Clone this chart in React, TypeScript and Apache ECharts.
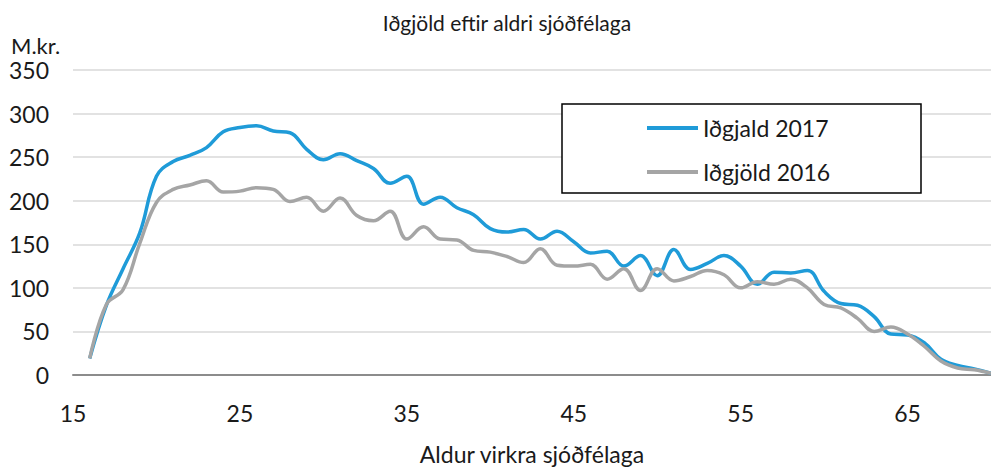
import React, { useEffect, useRef } from "react";
import * as echarts from "echarts";

const ages: string[] = [];
for (let a = 15; a <= 70; a++) ages.push(String(a));

// Values by age 16..70 (age 15 has no value)
const idgjald2017: (number | null)[] = [
  null,
  19, 80, 122, 163, 228, 245, 252, 261, 279, 284, 286, 280, 278, 259, 247,
  254, 246, 237, 220, 228, 196, 204, 192, 184, 168, 164, 167, 156, 165, 153,
  140, 142, 125, 137, 114, 144, 121, 128, 137, 125, 104, 118, 117, 120, 96,
  82, 80, 67, 47, 46, 37, 18, 11, 7, 2,
];

const idgjold2016: (number | null)[] = [
  null,
  19, 81, 98, 151, 198, 213, 218, 223, 210, 211, 215, 213, 199, 204, 188,
  203, 183, 177, 188, 156, 170, 156, 155, 143, 141, 136, 129, 145, 126, 125,
  127, 110, 122, 97, 122, 108, 113, 120, 115, 100, 107, 104, 110, 100, 81,
  77, 65, 50, 55, 47, 33, 16, 8, 6, 2,
];

const yTicks = { min: 0, max: 350, interval: 50 };

const seriesNames = ["Iðgjald 2017", "Iðgjöld 2016"];
const colors = ["#1f9bd8", "#a5a5a5"];

const FONT = "Lato, 'Open Sans', sans-serif";

export default function App() {
  const ref = useRef<HTMLDivElement>(null);
  useEffect(() => {
    if (!ref.current) return;
    const chart = echarts.init(ref.current, undefined, { renderer: "svg" });
    chart.setOption({
      animation: false,
      backgroundColor: "#ffffff",
      textStyle: { fontFamily: FONT },
      grid: { left: 73, right: -7, top: 70, bottom: 89, containLabel: false },
      xAxis: {
        type: "category",
        data: ages,
        boundaryGap: false,
        axisTick: { show: false },
        axisLine: { lineStyle: { color: "#8c8c8c", width: 2 } },
        axisLabel: {
          interval: 9,
          fontSize: 23,
          color: "#1a1a1a",
          margin: 26,
          fontFamily: FONT,
        },
        name: "Aldur virkra sjóðfélaga",
        nameLocation: "middle",
        nameGap: 67,
        nameTextStyle: { fontSize: 23, color: "#1a1a1a", fontFamily: FONT },
      },
      yAxis: {
        type: "value",
        min: yTicks.min,
        max: yTicks.max,
        interval: yTicks.interval,
        axisLine: { show: false },
        axisTick: { show: false },
        splitLine: { lineStyle: { color: "#d9d9d9", width: 1.5 } },
        axisLabel: { fontSize: 23, color: "#1a1a1a", margin: 24, fontFamily: FONT },
      },
      legend: {
        orient: "vertical",
        left: 647,
        top: 116,
        padding: 0,
        itemGap: 20,
        itemWidth: 51,
        itemHeight: 4,
        icon: "rect",
        textStyle: { fontSize: 23, lineHeight: 24, color: "#1a1a1a", fontFamily: FONT },
        data: seriesNames,
      },
      graphic: [
        {
          type: "rect",
          z: 3,
          shape: { x: 562, y: 104, width: 359, height: 89 },
          style: { fill: "#ffffff", stroke: "#000000", lineWidth: 1.5 },
        },
        {
          type: "text",
          z: 5,
          x: 507,
          y: 22,
          style: {
            text: "Iðgjöld eftir aldri sjóðfélaga",
            fontSize: 21,
            fontFamily: FONT,
            fill: "#1a1a1a",
            textAlign: "center",
            textVerticalAlign: "middle",
          },
        },
        {
          type: "text",
          z: 5,
          x: 11,
          y: 45,
          style: {
            text: "M.kr.",
            fontSize: 22,
            fontFamily: FONT,
            fill: "#1a1a1a",
            textAlign: "left",
            textVerticalAlign: "middle",
          },
        },
      ],
      series: [
        {
          name: seriesNames[0],
          type: "line",
          data: idgjald2017,
          smooth: 0.4,
          symbol: "none",
          z: 3,
          lineStyle: { color: colors[0], width: 3.5 },
          itemStyle: { color: colors[0] },
        },
        {
          name: seriesNames[1],
          type: "line",
          data: idgjold2016,
          smooth: 0.4,
          symbol: "none",
          z: 4,
          lineStyle: { color: colors[1], width: 3.5 },
          itemStyle: { color: colors[1] },
        },
      ],
    });
    return () => chart.dispose();
  }, []);
  return (
    <div
      ref={ref}
      style={{ position: "fixed", left: 0, top: 0, width: 991, height: 470, background: "#fff" }}
    />
  );
}
